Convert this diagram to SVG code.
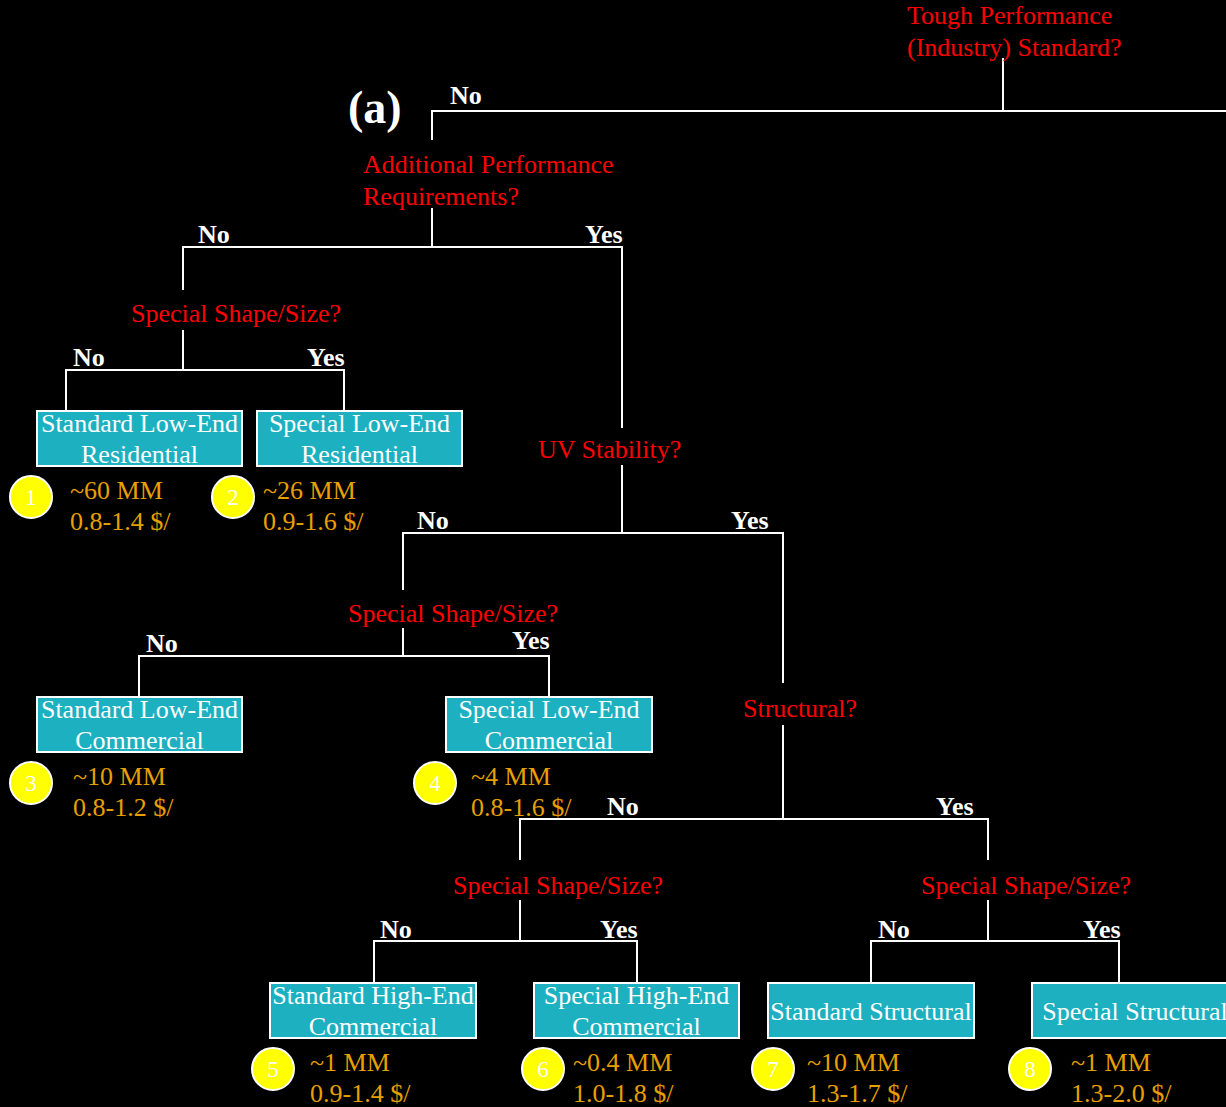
<svg xmlns="http://www.w3.org/2000/svg" width="1226" height="1107" viewBox="0 0 1226 1107">
<style>
.q{font-family:"Liberation Serif","Times New Roman",serif;font-size:26px;fill:#FF0000}
.yn{font-family:"Liberation Serif","Times New Roman",serif;font-size:26px;font-weight:bold;fill:#FFFFFF}
.bx{fill:#1CB0C0;stroke:#FFFFFF;stroke-width:2}
.bt{font-family:"Liberation Serif","Times New Roman",serif;font-size:26px;fill:#FFFFFF;text-anchor:middle}
.st{font-family:"Liberation Serif","Times New Roman",serif;font-size:26px;fill:#E8A000}
.cc{fill:#FFFF00;stroke:#FFFFFF;stroke-width:2}
.cn{font-family:"Liberation Serif","Times New Roman",serif;font-size:23px;fill:#FFFFFF;text-anchor:middle}
.ln{stroke:#FFFFFF;stroke-width:2;fill:none}
</style>
<rect width="1226" height="1107" fill="#000000"/>
<text x="348" y="123" font-family="Liberation Serif, Times New Roman, serif" font-size="46" font-weight="bold" fill="#FFFFFF">(a)</text>
<g id="connectors" class="ln">
<polyline points="1003,58 1003,111"/>
<polyline points="432,140 432,111 1226,111"/>
<polyline points="432,208 432,247"/>
<polyline points="183,290 183,247 622,247 622,428"/>
<polyline points="183,330 183,370"/>
<polyline points="66,410 66,370 344,370 344,410"/>
<polyline points="622,465 622,533"/>
<polyline points="403,590 403,533 783,533 783,683"/>
<polyline points="403,628 403,656"/>
<polyline points="139,696 139,656 549,656 549,696"/>
<polyline points="783,725 783,819"/>
<polyline points="520,860 520,819 988,819 988,860"/>
<polyline points="520,900 520,941"/>
<polyline points="374,983 374,941 637,941 637,983"/>
<polyline points="988,900 988,941"/>
<polyline points="871,983 871,941 1119,941 1119,983"/>
</g>
<g id="labels">
<text class="yn" x="450" y="104">No</text>
<text class="yn" x="198" y="243">No</text>
<text class="yn" x="585" y="243">Yes</text>
<text class="yn" x="73" y="366">No</text>
<text class="yn" x="307" y="366">Yes</text>
<text class="yn" x="417" y="529">No</text>
<text class="yn" x="731" y="529">Yes</text>
<text class="yn" x="146" y="652">No</text>
<text class="yn" x="512" y="649">Yes</text>
<text class="yn" x="607" y="815">No</text>
<text class="yn" x="936" y="815">Yes</text>
<text class="yn" x="380" y="938">No</text>
<text class="yn" x="600" y="938">Yes</text>
<text class="yn" x="878" y="938">No</text>
<text class="yn" x="1083" y="938">Yes</text>
</g>
<g id="q-tough"><text class="q" x="907" y="24">Tough Performance</text><text class="q" x="907" y="56">(Industry) Standard?</text></g>
<g id="q-additional"><text class="q" x="363" y="173">Additional Performance</text><text class="q" x="363" y="205">Requirements?</text></g>
<g id="q-shape1"><text class="q" x="131" y="322">Special Shape/Size?</text></g>
<g id="q-uv"><text class="q" x="538" y="458">UV Stability?</text></g>
<g id="q-shape2"><text class="q" x="348" y="622">Special Shape/Size?</text></g>
<g id="q-structural"><text class="q" x="743" y="717">Structural?</text></g>
<g id="q-shape3"><text class="q" x="453" y="894">Special Shape/Size?</text></g>
<g id="q-shape4"><text class="q" x="921" y="894">Special Shape/Size?</text></g>
<g id="n1"><rect class="bx" x="37" y="411" width="205" height="55"/><text class="bt" x="139.5" y="432">Standard Low-End</text><text class="bt" x="139.5" y="463">Residential</text>
<circle class="cc" cx="31" cy="497" r="21"/><text class="cn" x="31" y="505">1</text>
<text class="st" x="70" y="499">~60 MM</text><text class="st" x="70" y="530">0.8-1.4 $/</text></g>
<g id="n2"><rect class="bx" x="257" y="411" width="205" height="55"/><text class="bt" x="359.5" y="432">Special Low-End</text><text class="bt" x="359.5" y="463">Residential</text>
<circle class="cc" cx="233" cy="497" r="21"/><text class="cn" x="233" y="505">2</text>
<text class="st" x="263" y="499">~26 MM</text><text class="st" x="263" y="530">0.9-1.6 $/</text></g>
<g id="n3"><rect class="bx" x="37" y="697" width="205" height="55"/><text class="bt" x="139.5" y="718">Standard Low-End</text><text class="bt" x="139.5" y="749">Commercial</text>
<circle class="cc" cx="31" cy="783" r="21"/><text class="cn" x="31" y="791">3</text>
<text class="st" x="73" y="785">~10 MM</text><text class="st" x="73" y="816">0.8-1.2 $/</text></g>
<g id="n4"><rect class="bx" x="446" y="697" width="206" height="55"/><text class="bt" x="549" y="718">Special Low-End</text><text class="bt" x="549" y="749">Commercial</text>
<circle class="cc" cx="435" cy="783" r="21"/><text class="cn" x="435" y="791">4</text>
<text class="st" x="471" y="785">~4 MM</text><text class="st" x="471" y="816">0.8-1.6 $/</text></g>
<g id="n5"><rect class="bx" x="270" y="983" width="206" height="55"/><text class="bt" x="373" y="1004">Standard High-End</text><text class="bt" x="373" y="1035">Commercial</text>
<circle class="cc" cx="273" cy="1069" r="21"/><text class="cn" x="273" y="1077">5</text>
<text class="st" x="310" y="1071">~1 MM</text><text class="st" x="310" y="1102">0.9-1.4 $/</text></g>
<g id="n6"><rect class="bx" x="534" y="983" width="205" height="55"/><text class="bt" x="636.5" y="1004">Special High-End</text><text class="bt" x="636.5" y="1035">Commercial</text>
<circle class="cc" cx="543" cy="1069" r="21"/><text class="cn" x="543" y="1077">6</text>
<text class="st" x="573" y="1071">~0.4 MM</text><text class="st" x="573" y="1102">1.0-1.8 $/</text></g>
<g id="n7"><rect class="bx" x="768" y="983" width="206" height="55"/><text class="bt" x="871" y="1020">Standard Structural</text>
<circle class="cc" cx="773" cy="1069" r="21"/><text class="cn" x="773" y="1077">7</text>
<text class="st" x="807" y="1071">~10 MM</text><text class="st" x="807" y="1102">1.3-1.7 $/</text></g>
<g id="n8"><rect class="bx" x="1032" y="983" width="206" height="55"/><text class="bt" x="1135" y="1020">Special Structural</text>
<circle class="cc" cx="1030" cy="1069" r="21"/><text class="cn" x="1030" y="1077">8</text>
<text class="st" x="1071" y="1071">~1 MM</text><text class="st" x="1071" y="1102">1.3-2.0 $/</text></g>
</svg>
